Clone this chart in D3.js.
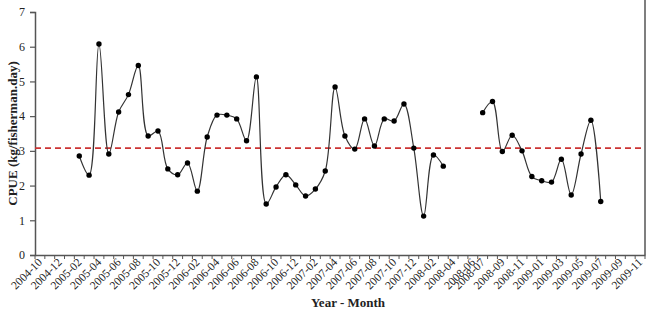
<!DOCTYPE html>
<html>
<head>
<meta charset="utf-8">
<script src="https://cdn.jsdelivr.net/npm/d3@7"></script>
<style>
  body { margin: 0; background: #fff; }
  svg { display: block; }
</style>
</head>
<body>
<div id="chart"></div>
<script>
// categories: every month from 2004-10 to 2009-11
const months = [
  '2004-10','2004-11','2004-12',
  '2005-01','2005-02','2005-03','2005-04','2005-05','2005-06','2005-07','2005-08','2005-09','2005-10','2005-11','2005-12',
  '2006-01','2006-02','2006-03','2006-04','2006-05','2006-06','2006-07','2006-08','2006-09','2006-10','2006-11','2006-12',
  '2007-01','2007-02','2007-03','2007-04','2007-05','2007-06','2007-07','2007-08','2007-09','2007-10','2007-11','2007-12',
  '2008-01','2008-02','2008-03','2008-04','2008-05','2008-06','2008-07','2008-08','2008-09','2008-10','2008-11','2008-12',
  '2009-01','2009-02','2009-03','2009-04','2009-05','2009-06','2009-07','2009-08','2009-09','2009-10','2009-11'
];

// CPUE per month (null = no data)
const cpue = [
  null, null, null,
  null, 2.85, 2.30, 6.08, 2.91, 4.12, 4.62, 5.46, 3.43, 3.57, 2.48, 2.31,
  2.65, 1.84, 3.40, 4.03, 4.03, 3.92, 3.29, 5.13, 1.47, 1.96, 2.31,
  2.02, 1.70, 1.90, 2.42, 4.84, 3.43, 3.05, 3.92, 3.14, 3.92, 3.86, 4.35,
  3.08, 1.12, 2.88, 2.56, null, null, null, 4.10, 4.42, 2.98, 3.45, 3.00, 2.26,
  2.14, 2.10, 2.76, 1.73, 2.91, 3.88, 1.54, null, null, null, null
];

// average reference line
const meanCpue = 3.08;

const tickLabels = [
  '2004-10','2004-12','2005-02','2005-04','2005-06','2005-08','2005-10','2005-12',
  '2006-02','2006-04','2006-06','2006-08','2006-10','2006-12',
  '2007-02','2007-04','2007-06','2007-08','2007-10','2007-12',
  '2008-02','2008-04','2008-06','2008-07','2008-09','2008-11',
  '2009-01','2009-03','2009-05','2009-07','2009-09','2009-11'
];
const yTicks = [0, 1, 2, 3, 4, 5, 6, 7];

const width = 649;
const height = 309;
const plotLeft = 35, plotRight = 645, plotTop = 12, plotBottom = 255;
const serif = '"Liberation Serif", "DejaVu Serif", serif';

const svg = d3.select('#chart')
  .append('svg')
    .attr('width', width)
    .attr('height', height);

const xScale = d3.scaleBand()
  .domain(months)
  .range([plotLeft, plotRight])
  .padding(0);

const yScale = d3.scaleLinear()
  .domain([0, 7])
  .range([plotBottom, plotTop]);

const cx = (m) => xScale(m) + xScale.bandwidth() / 2;

// right border line
svg.append('line')
  .attr('x1', plotRight).attr('x2', plotRight)
  .attr('y1', 0).attr('y2', plotBottom)
  .attr('stroke', '#555')
  .attr('stroke-width', 1.5);

// y axis
const yAxis = svg.append('g')
  .attr('transform', `translate(${plotLeft}, 0)`)
  .call(d3.axisLeft(yScale).tickValues(yTicks).tickSize(5).tickPadding(5).tickFormat(d3.format('d')));
yAxis.select('.domain').attr('stroke', '#555').attr('stroke-width', 1.5);
yAxis.selectAll('.tick line').attr('stroke', '#555').attr('stroke-width', 1.2);
yAxis.selectAll('.tick text')
  .attr('font-family', serif)
  .attr('font-size', 12)
  .attr('fill', '#222');

// x axis: tick marks between categories
const xTicks = svg.append('g');
xTicks.selectAll('line')
  .data(months.concat(['end']))
  .enter()
    .append('line')
      .attr('x1', (d) => d === 'end' ? plotRight : xScale(d))
      .attr('x2', (d) => d === 'end' ? plotRight : xScale(d))
      .attr('y1', plotBottom)
      .attr('y2', plotBottom + 4)
      .attr('stroke', '#555')
      .attr('stroke-width', 1);

const xAxis = svg.append('g')
  .attr('transform', `translate(0, ${plotBottom})`)
  .call(d3.axisBottom(xScale).tickValues(tickLabels).tickSize(0).tickPadding(0));
xAxis.select('.domain').attr('stroke', '#555').attr('stroke-width', 1.5);
xAxis.selectAll('.tick text')
  .attr('font-family', serif)
  .attr('font-size', 11.5)
  .attr('fill', '#222')
  .attr('text-anchor', 'end')
  .attr('dy', 0)
  .attr('transform', 'translate(3, 8) rotate(-45)');

// mean line
svg.append('line')
  .attr('x1', plotLeft).attr('x2', plotRight)
  .attr('y1', yScale(meanCpue)).attr('y2', yScale(meanCpue))
  .attr('stroke', '#cc3333')
  .attr('stroke-width', 1.6)
  .attr('stroke-dasharray', '6,4');

// series
const points = months.map((m, i) => ({ month: m, value: cpue[i] }));

const line = d3.line()
  .defined((d) => d.value !== null)
  .x((d) => cx(d.month))
  .y((d) => yScale(d.value))
  .curve(d3.curveCatmullRom.alpha(0.5));

svg.append('path')
  .datum(points)
  .attr('fill', 'none')
  .attr('stroke', '#333')
  .attr('stroke-width', 1.2)
  .attr('d', line);

svg.selectAll('circle')
  .data(points.filter((d) => d.value !== null))
  .enter()
    .append('circle')
      .attr('cx', (d) => cx(d.month))
      .attr('cy', (d) => yScale(d.value))
      .attr('r', 2.7)
      .attr('fill', '#000');

// axis titles
svg.append('text')
  .attr('transform', `translate(17, ${(plotTop + plotBottom) / 2}) rotate(-90)`)
  .attr('text-anchor', 'middle')
  .attr('font-family', serif)
  .attr('font-weight', 'bold')
  .attr('font-size', 13)
  .attr('fill', '#222')
  .text('CPUE (kg/fisherman.day)');

svg.append('text')
  .attr('x', 348)
  .attr('y', 307)
  .attr('text-anchor', 'middle')
  .attr('font-family', serif)
  .attr('font-weight', 'bold')
  .attr('font-size', 13)
  .attr('fill', '#222')
  .text('Year - Month');
</script>
</body>
</html>
